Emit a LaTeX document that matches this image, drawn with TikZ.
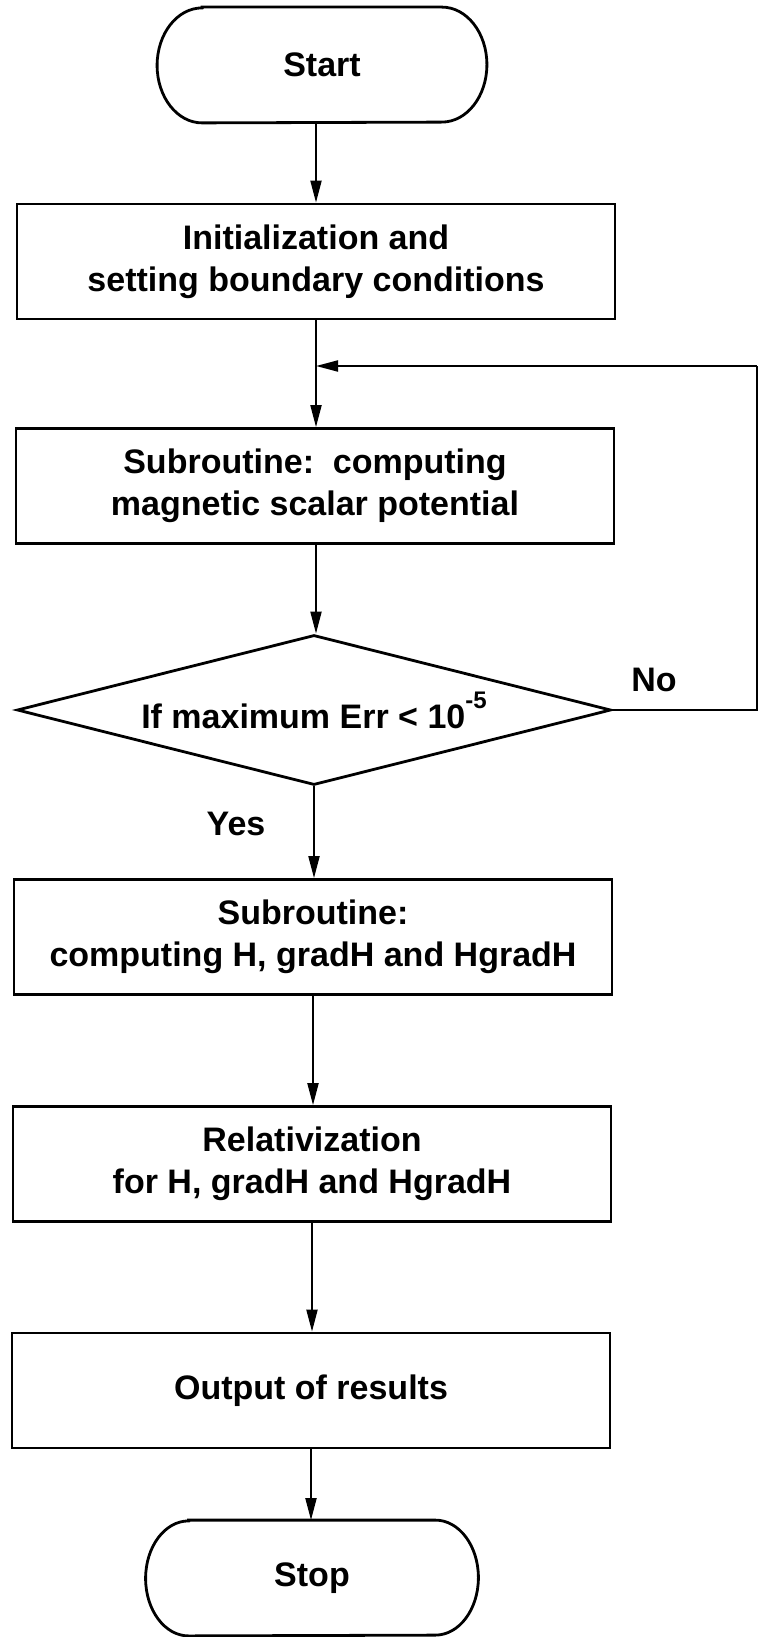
\documentclass[tikz,border=0pt]{standalone}
\usepackage{fontspec}
\setmainfont{Liberation Sans}
\usetikzlibrary{arrows.meta,shapes.geometric,calc}
\newcommand\txtfont{\fontsize{17}{21}\selectfont\bfseries}
\tikzset{
  box/.style={draw, line width=1.4pt, minimum width=299pt, minimum height=57.5pt,
              align=center, font=\txtfont, inner sep=0pt},
  termnode/.style={minimum width=#1, minimum height=57.5pt, font=\txtfont, inner sep=0pt},
  termline/.style={line width=1.4pt},
  conn/.style={line width=1pt, -{Triangle[length=11pt,width=5.5pt]}},
  plainline/.style={line width=1pt},
  lbl/.style={font=\txtfont, inner sep=0pt},
}
\begin{document}
\begin{tikzpicture}[x=0.5pt,y=-0.5pt]
\useasboundingbox (0,0) rectangle (761,1637);

% Start terminal
\node[termnode=164.5pt] (start) at (322,65) {Start};
\draw[termline] ($(start.north west)+(45,0)$) -- ($(start.north east)+(-45,0)$)
  arc[start angle=270,end angle=450,x radius=45,y radius=57.5]
  -- ($(start.south west)+(45,0)$)
  arc[start angle=90,end angle=270,x radius=45,y radius=57.5] -- cycle;

\node[box] (b1) at (316,261.5) {Initialization and\\setting boundary conditions};
\coordinate (j) at (316,366);
\node[box] (b2) at (315,486) {Subroutine:\ \ computing\\magnetic scalar potential};

\node[draw, diamond, aspect=4, minimum width=297pt, minimum height=75pt,
      inner sep=0pt, line width=1.4pt, font=\txtfont] (dia) at (314,710)
  {If maximum Err < 10\raisebox{10pt}{\fontsize{12}{12}\selectfont\bfseries -5}};

\node[lbl] (yes) at (236,824) {Yes};
\node[lbl] (no) at (654,680) {No};
\coordinate (r1) at (757,710);
\coordinate (r2) at (757,366);

\node[box] (b3) at (313,937) {Subroutine:\\computing H,\ gradH\ and HgradH};
\node[box] (b4) at (312,1164) {Relativization\\for H, gradH and HgradH};
\node[box] (b5) at (311,1390.5) {Output of results};

% Stop terminal
\node[termnode=166pt] (stop) at (312,1578) {Stop};
\draw[termline] ($(stop.north west)+(43,0)$) -- ($(stop.north east)+(-43,0)$)
  arc[start angle=270,end angle=450,x radius=43,y radius=57.5]
  -- ($(stop.south west)+(43,0)$)
  arc[start angle=90,end angle=270,x radius=43,y radius=57.5] -- cycle;

% connectors
\draw[conn] (start.south -| j) -- (b1.north -| j);
\draw[conn] (b1.south -| j) -- (b2.north -| j);
\draw[conn] (b2.south -| j) -- (dia.north -| j);
\draw[plainline] (dia.east) -- (r1) -- (r2);
\draw[conn] (r2) -- (j);
\draw[conn] (dia.south) -- (dia.south |- b3.north);
\draw[conn] (b3.south) -- (b3.south |- b4.north);
\draw[conn] (b4.south) -- (b4.south |- b5.north);
\draw[conn] (b5.south) -- (b5.south |- stop.north);
\end{tikzpicture}
\end{document}
